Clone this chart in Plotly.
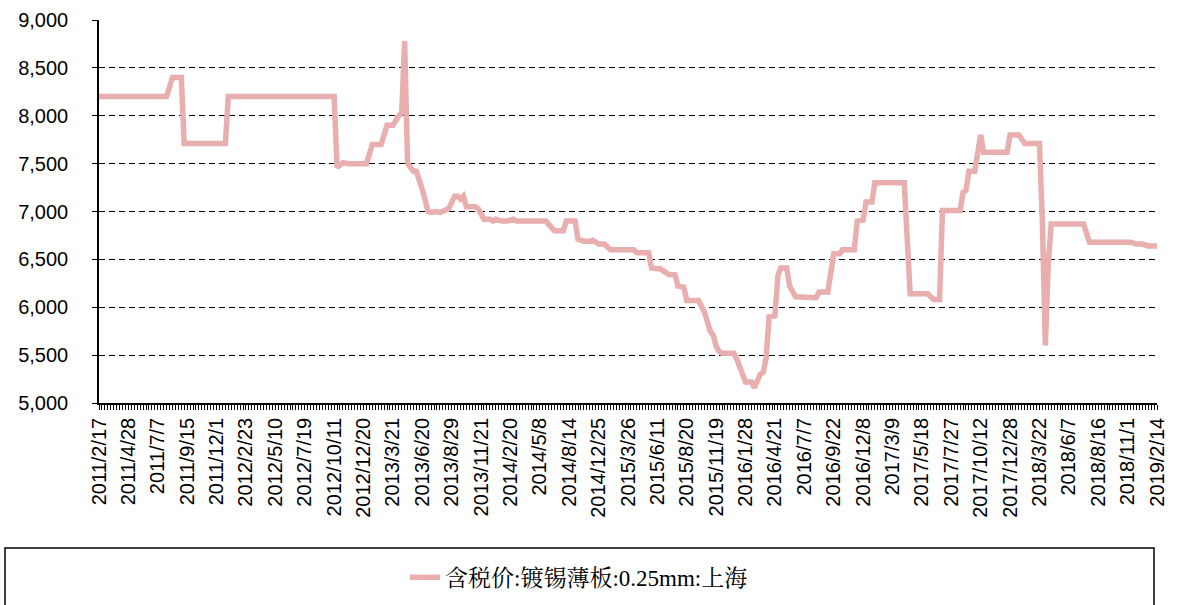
import plotly.graph_objects as go

# Tick labels on the category axis (one label every 10 weekly observations)
tick_labels = [
    "2011/2/17", "2011/4/28", "2011/7/7", "2011/9/15", "2011/12/1", "2012/2/23",
    "2012/5/10", "2012/7/19", "2012/10/11", "2012/12/20", "2013/3/21", "2013/6/20",
    "2013/8/29", "2013/11/21", "2014/2/20", "2014/5/8", "2014/8/14", "2014/12/25",
    "2015/3/26", "2015/6/11", "2015/8/20", "2015/11/19", "2016/1/28", "2016/4/21",
    "2016/7/7", "2016/9/22", "2016/12/8", "2017/3/9", "2017/5/18", "2017/7/27",
    "2017/10/12", "2017/12/28", "2018/3/22", "2018/6/7", "2018/8/16", "2018/11/1",
    "2019/2/14",
]
label_every = 10
n_obs = 361

# Observation index (position on the category axis) and price at that observation
obs_idx = [
    0, 23, 25, 28, 29, 43, 44, 80, 81, 83, 85, 91, 93, 96, 98, 100, 102, 103, 104, 105,
    107, 108, 110, 112, 113, 115, 116, 118, 119, 121, 122, 123, 124, 125, 128, 129, 131,
    133, 134, 135, 137, 139, 141, 142, 152, 155, 158, 159, 162, 163, 165, 167, 168, 170,
    172, 174, 182, 183, 187, 188, 191, 192, 194, 196, 197, 199, 200, 204, 205, 206, 208,
    209, 210, 211, 212, 216, 217, 219, 220, 222, 223, 225, 226, 227, 228, 230, 231, 232,
    234, 235, 237, 244, 245, 248, 250, 252, 253, 257, 258, 260, 261, 263, 264, 274, 276,
    282, 284, 286, 287, 293, 294, 295, 296, 298, 300, 301, 309, 310, 313, 315, 320, 321,
    322, 323, 324, 335, 337, 351, 353, 355, 357, 360,
]
price = [
    8200, 8200, 8400, 8400, 7710, 7710, 8200, 8200, 7460, 7510, 7500, 7500, 7700, 7700,
    7900, 7900, 8000, 8030, 8780, 7500, 7420, 7420, 7230, 7000, 6990, 7000, 6990, 7010,
    7030, 7160, 7160, 7130, 7160, 7050, 7050, 7030, 6920, 6920, 6900, 6920, 6900, 6900,
    6920, 6900, 6900, 6800, 6800, 6900, 6900, 6710, 6690, 6690, 6700, 6660, 6660, 6600,
    6600, 6570, 6570, 6410, 6400, 6380, 6340, 6340, 6220, 6210, 6070, 6070, 6010, 5950,
    5750, 5710, 5590, 5540, 5520, 5520, 5460, 5320, 5220, 5220, 5160, 5300, 5320, 5470,
    5900, 5910, 6330, 6410, 6410, 6220, 6110, 6100, 6160, 6160, 6560, 6560, 6600, 6600,
    6900, 6910, 7100, 7100, 7300, 7300, 6140, 6140, 6080, 6080, 7010, 7010, 7200, 7220,
    7420, 7420, 7800, 7620, 7620, 7800, 7800, 7710, 7710, 6900, 5600, 6450, 6870, 6870,
    6680, 6680, 6660, 6660, 6640, 6640,
]
series_name = "含税价:镀锡薄板:0.25mm:上海"

line_color = "#E9AEAE"

fig = go.Figure()
fig.add_trace(go.Scatter(
    x=obs_idx, y=price, mode="lines", name=series_name,
    line=dict(color=line_color, width=5.5),
    showlegend=True,
))

tickvals = [i * label_every for i in range(len(tick_labels))]

fig.update_layout(
    width=1182, height=605,
    margin=dict(l=99, r=25, t=20, b=202, autoexpand=False),
    paper_bgcolor="white", plot_bgcolor="white",
    font=dict(family="Liberation Sans, Arial, sans-serif", color="black"),
    xaxis=dict(
        range=[0, n_obs - 1], automargin=False,
        tickmode="array", tickvals=tickvals, ticktext=tick_labels,
        tickangle=-90, tickfont=dict(size=20, family="Liberation Sans, Arial"),
        ticks="outside", ticklen=5, tickcolor="black", tickwidth=1,
        minor=dict(dtick=1, tick0=0, ticks="outside", ticklen=5, tickcolor="black", tickwidth=1),
        showline=True, linecolor="black", linewidth=1.5,
        showgrid=False, zeroline=False,
    ),
    yaxis=dict(
        range=[5000, 9000], dtick=500, tick0=5000, automargin=False,
        tickformat=",d", tickfont=dict(size=20, family="Liberation Sans, Arial"),
        ticks="outside", ticklen=5, tickcolor="black", tickwidth=1,
        ticklabelstandoff=20,
        showline=True, linecolor="black", linewidth=1.5,
        showgrid=True, gridcolor="black", gridwidth=1, griddash="6px,4px",
        zeroline=False,
    ),
    legend=dict(
        orientation="h", x=0.4537, xanchor="center", y=-0.455, yanchor="middle",
        font=dict(size=23, family="Liberation Serif, Noto Serif CJK SC, Noto Sans CJK SC, serif"),
        bgcolor="rgba(0,0,0,0)", borderwidth=0,
    ),
    shapes=[dict(
        type="rect", xref="paper", yref="paper",
        x0=(5 - 99) / 1058, x1=(1154 - 99) / 1058,
        y0=(403 - 548) / 383, y1=(403 - 640) / 383,
        line=dict(color="black", width=1.5), fillcolor="rgba(0,0,0,0)",
    )],
)

fig.write_html(
    "out.html",
    config={"displayModeBar": False},
    post_script="document.body.style.margin='0';document.body.style.overflow='hidden';",
)
